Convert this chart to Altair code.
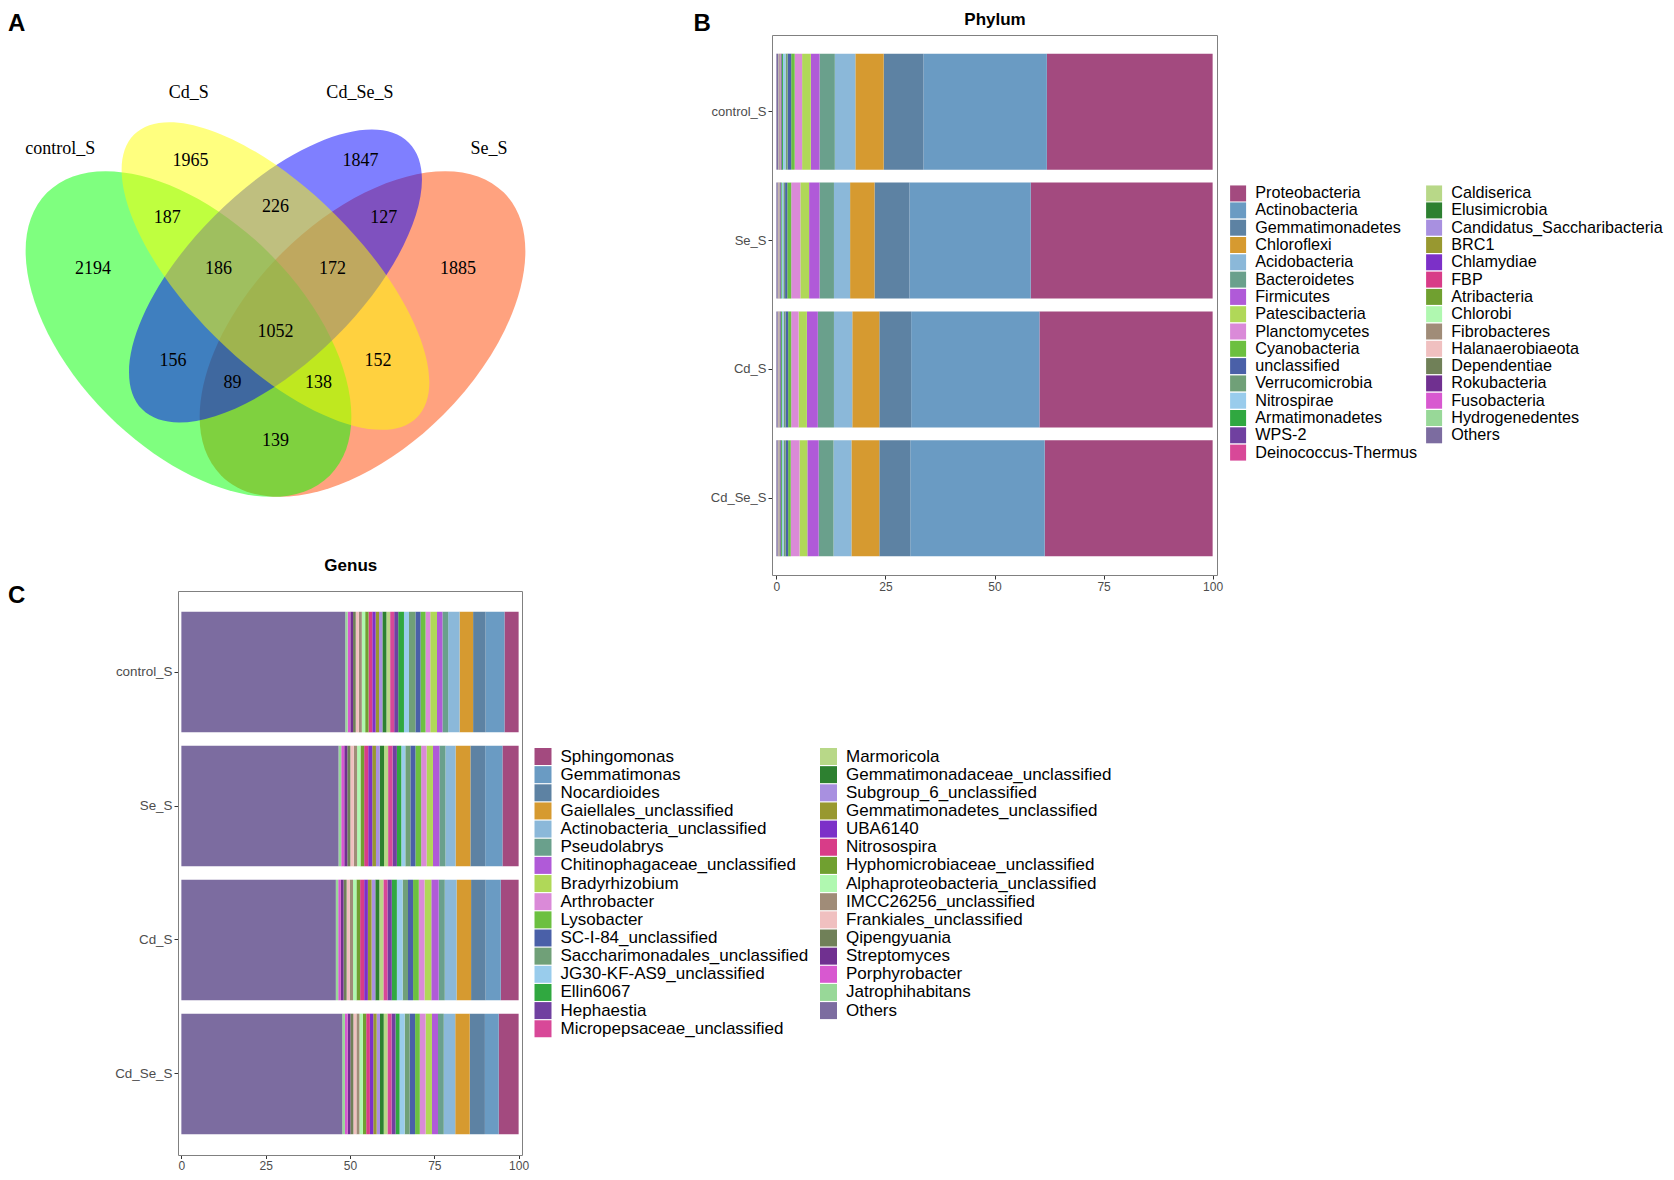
import altair as alt
import pandas as pd

# ------------------------------------------------------------------ data
samples = ["control_S", "Se_S", "Cd_S", "Cd_Se_S"]

phylum_names = ["Proteobacteria", "Actinobacteria", "Gemmatimonadetes", "Chloroflexi",
                "Acidobacteria", "Bacteroidetes", "Firmicutes", "Patescibacteria",
                "Planctomycetes", "Cyanobacteria", "unclassified", "Verrucomicrobia",
                "Nitrospirae", "Armatimonadetes", "WPS-2", "Deinococcus-Thermus",
                "Caldiserica", "Elusimicrobia", "Candidatus_Saccharibacteria", "BRC1",
                "Chlamydiae", "FBP", "Atribacteria", "Chlorobi", "Fibrobacteres",
                "Halanaerobiaeota", "Dependentiae", "Rokubacteria", "Fusobacteria",
                "Hydrogenedentes", "Others"]
phylum_control_S = [38.0, 28.3, 9.1, 6.5, 4.7, 3.5, 2.0, 2.0, 1.7, 0.8, 0.8, 0.5, 0.6, 0.3, 0.2, 0.1,
                    0.06, 0.05, 0.05, 0.05, 0.04, 0.04, 0.04, 0.03, 0.03, 0.03, 0.03, 0.02, 0.02, 0.02, 0.39]
phylum_Se_S = [41.7, 27.8, 8.0, 5.6, 3.7, 3.3, 2.4, 2.0, 2.1, 0.9, 0.5, 0.4, 0.4, 0.2, 0.15, 0.1,
               0.05, 0.04, 0.05, 0.04, 0.03, 0.04, 0.03, 0.03, 0.02, 0.03, 0.03, 0.02, 0.02, 0.02, 0.3]
phylum_Cd_S = [39.7, 29.4, 7.3, 6.2, 4.2, 3.7, 2.5, 1.9, 1.7, 0.7, 0.6, 0.45, 0.4, 0.25, 0.15, 0.1,
               0.05, 0.04, 0.05, 0.04, 0.03, 0.04, 0.03, 0.03, 0.02, 0.03, 0.03, 0.02, 0.02, 0.02, 0.3]
phylum_Cd_Se_S = [38.5, 30.8, 7.1, 6.4, 4.1, 3.4, 2.6, 1.8, 2.0, 0.6, 0.55, 0.5, 0.4, 0.25, 0.15, 0.1,
                  0.04, 0.05, 0.04, 0.04, 0.04, 0.03, 0.03, 0.03, 0.03, 0.02, 0.03, 0.02, 0.02, 0.03, 0.3]

genus_names = ["Sphingomonas", "Gemmatimonas", "Nocardioides", "Gaiellales_unclassified",
               "Actinobacteria_unclassified", "Pseudolabrys", "Chitinophagaceae_unclassified",
               "Bradyrhizobium", "Arthrobacter", "Lysobacter", "SC-I-84_unclassified",
               "Saccharimonadales_unclassified", "JG30-KF-AS9_unclassified", "Ellin6067",
               "Hephaestia", "Micropepsaceae_unclassified", "Marmoricola",
               "Gemmatimonadaceae_unclassified", "Subgroup_6_unclassified",
               "Gemmatimonadetes_unclassified", "UBA6140", "Nitrosospira",
               "Hyphomicrobiaceae_unclassified", "Alphaproteobacteria_unclassified",
               "IMCC26256_unclassified", "Frankiales_unclassified", "Qipengyuania",
               "Streptomyces", "Porphyrobacter", "Jatrophihabitans", "Others"]
genus_control_S = [4.2, 5.6, 3.7, 4.0, 3.4, 1.7, 1.6, 2.0, 1.4, 1.5, 1.5, 1.9, 1.5, 1.7, 1.2, 1.2,
                   1.1, 1.2, 1.0, 1.0, 1.0, 1.1, 1.0, 1.0, 0.9, 0.9, 0.8, 0.8, 0.8, 0.7, 48.6]
genus_Se_S = [4.8, 5.1, 4.4, 4.4, 3.0, 1.8, 1.9, 1.9, 1.6, 1.7, 1.5, 1.5, 1.2, 1.3, 1.3, 1.3,
              1.2, 1.3, 1.1, 1.1, 1.2, 1.2, 1.1, 1.0, 1.0, 1.0, 0.9, 0.9, 0.9, 0.8, 46.6]
genus_Cd_S = [5.3, 4.5, 4.3, 4.3, 3.5, 1.8, 2.2, 2.0, 1.7, 1.7, 1.5, 1.6, 1.7, 1.5, 1.3, 1.2,
              1.2, 1.2, 1.1, 1.1, 1.1, 1.2, 1.1, 1.0, 1.0, 0.9, 0.9, 0.8, 0.8, 0.7, 45.8]
genus_Cd_Se_S = [5.9, 4.1, 4.5, 4.3, 3.4, 1.7, 1.8, 1.9, 1.7, 1.4, 1.6, 1.5, 1.5, 1.2, 1.2, 1.2,
                 1.1, 1.1, 1.0, 1.0, 1.0, 1.1, 1.0, 1.0, 0.9, 0.9, 0.9, 0.8, 0.8, 0.8, 47.7]

palette = ["#A34A7F", "#6A9BC3", "#5D82A3", "#D69A30", "#8BB8D9", "#6AA08C", "#B05AD8",
           "#B0D858", "#DA8AD8", "#6CC040", "#4A60A8", "#70A078", "#99CCEC", "#30A840",
           "#7040A0", "#D84898", "#B8D888", "#2D8030", "#A890E0", "#989830", "#7C30C8",
           "#D83C88", "#70A030", "#B0F8B0", "#A08C78", "#F0C0C0", "#708058", "#703090",
           "#D858D0", "#98D898", "#7C6CA0"]

# Venn (VennDiagram quad layout, unit square)
venn_sets = ["control_S", "Cd_S", "Cd_Se_S", "Se_S"]
venn_colors = ["#00FF00", "#FFFF00", "#0000FF", "#FF4500"]
venn_draw_order = ["Se_S", "control_S", "Cd_Se_S", "Cd_S"]
ell_cx = [0.35, 0.50, 0.50, 0.65]
ell_cy = [0.47, 0.57, 0.57, 0.47]
ell_a = [0.35, 0.35, 0.33, 0.35]
ell_b = [0.20, 0.15, 0.15, 0.20]
ell_rot = [135, 135, 45, 45]
region_counts = ["2194", "1965", "1847", "1885", "187", "226", "127", "186", "172",
                 "1052", "156", "152", "89", "138", "139"]
region_u = [0.1855, 0.3536, 0.6464, 0.8145, 0.3133, 0.500, 0.6867, 0.4017, 0.5983,
            0.500, 0.3231, 0.6769, 0.4258, 0.5742, 0.500]
region_v = [0.5818, 0.7675, 0.7675, 0.5818, 0.6693, 0.6884, 0.6693, 0.5818, 0.5818,
            0.4727, 0.4241, 0.4241, 0.3850, 0.3850, 0.2860]
setlabel_u = [0.1289, 0.3503, 0.6455, 0.8681]
setlabel_v = [0.7882, 0.8850, 0.8850, 0.7882]

FONT = "Liberation Sans"
W, H = 1658, 1164

# ------------------------------------------------------------------ panel A (Venn)
VX_RANGE = [0, 600]
VY_RANGE = [567, 27]
VX = [0.038793, 1.073276]
VY = [0.054483, 0.985517]
ppu = (VX_RANGE[1] - VX_RANGE[0]) / (VX[1] - VX[0])
ELL_SCALE = 0.985
xs = alt.Scale(domain=VX, range=VX_RANGE, nice=False, zero=False)
ys = alt.Scale(domain=VY, range=VY_RANGE, nice=False, zero=False)

ell_df = pd.DataFrame({"set": venn_sets, "cx": ell_cx, "cy": ell_cy})
venn_layers = []
for name in venn_draw_order:
    i = venn_sets.index(name)
    r = ell_b[i] / ell_a[i]
    path = f"M-1,0A1,{r:.5f},0,1,1,1,0A1,{r:.5f},0,1,1,-1,0Z"
    venn_layers.append(
        alt.Chart(ell_df).transform_filter(alt.datum.set == name)
        .mark_point(shape=path, size=(2 * ell_a[i] * ppu * ELL_SCALE) ** 2,
                    angle=180 - ell_rot[i], filled=True, color=venn_colors[i],
                    opacity=0.5, strokeWidth=0)
        .encode(x=alt.X("cx:Q", scale=xs, axis=None), y=alt.Y("cy:Q", scale=ys, axis=None))
    )

cnt_df = pd.DataFrame({"u": region_u, "v": region_v, "n": region_counts})
venn_layers.append(
    alt.Chart(cnt_df).mark_text(font="Liberation Serif", fontSize=18, color="black")
    .encode(x=alt.X("u:Q", scale=xs, axis=None), y=alt.Y("v:Q", scale=ys, axis=None), text="n:N")
)
lab_df = pd.DataFrame({"u": setlabel_u, "v": setlabel_v, "n": venn_sets})
venn_layers.append(
    alt.Chart(lab_df).mark_text(font="Liberation Serif", fontSize=18, color="black")
    .encode(x=alt.X("u:Q", scale=xs, axis=None), y=alt.Y("v:Q", scale=ys, axis=None), text="n:N")
)


def note(txt, x, y, size, align="left"):
    return alt.Chart(pd.DataFrame({"t": [txt]})).mark_text(
        align=align, baseline="alphabetic", fontSize=size, fontWeight="bold",
        color="black", font=FONT
    ).encode(text="t:N", x=alt.value(x), y=alt.value(y))


notes = [
    note("A", 0, 23, 24),
    note("B", 685.6, 23, 24),
    note("Phylum", 987, 16.5, 17, align="center"),
    note("C", 0, 595, 24),
    note("Genus", 342.8, 563, 17, align="center"),
]

# ------------------------------------------------------------------ panels B and C


def bar_layers(field, names, series, xr, yr, pad_outer, lx, ly, fsize, sym, rowpad, colpad,
               ylab, tick, lpad):
    rows = []
    for s, vals in zip(samples, series):
        for k, (t, v) in enumerate(zip(names, vals)):
            rows.append({"sample": s, field: t, "value": v, "rank": len(names) - 1 - k})
    df = pd.DataFrame(rows)
    xsc = alt.Scale(domain=[-1, 101], range=xr, nice=False, zero=False)
    ysc = alt.Scale(domain=samples, range=yr, paddingInner=0.1, paddingOuter=pad_outer)
    bars = alt.Chart(df).mark_bar().encode(
        x=alt.X("value:Q", stack="zero", scale=xsc,
                axis=alt.Axis(orient="bottom", offset=yr[1] - H, values=[0, 25, 50, 75, 100],
                              title=None, grid=False, domain=True, domainColor="#808080",
                              domainWidth=1, tickSize=tick, tickColor="#333333",
                              labelColor="#4d4d4d", labelFontSize=12, labelPadding=lpad,
                              labelFlush=False)),
        y=alt.Y("sample:N", sort=samples, scale=ysc,
                axis=alt.Axis(orient="left", offset=-xr[0], title=None, grid=False, domain=True,
                              domainColor="#808080", domainWidth=1, tickSize=4,
                              tickColor="#333333", labelColor="#4d4d4d", labelFontSize=ylab,
                              labelPadding=2)),
        color=alt.Color(f"{field}:N", scale=alt.Scale(domain=names, range=palette),
                        legend=alt.Legend(title=None, orient="none", legendX=lx, legendY=ly,
                                          columns=2, symbolType="square", symbolSize=sym * sym,
                                          symbolStrokeWidth=0, symbolOpacity=1, symbolLimit=60,
                                          labelFontSize=fsize, labelColor="black", labelFont=FONT,
                                          labelOffset=9, rowPadding=rowpad, columnPadding=colpad,
                                          padding=0, labelLimit=500)),
        order=alt.Order("rank:Q", sort="ascending"),
    )
    frame = alt.Chart(df).mark_bar(opacity=0).encode(
        x=alt.X("value:Q", stack="zero", scale=xsc,
                axis=alt.Axis(orient="top", offset=-yr[0], title=None, grid=False, labels=False,
                              ticks=False, domain=True, domainColor="#808080", domainWidth=1)),
        y=alt.Y("sample:N", sort=samples, scale=ysc,
                axis=alt.Axis(orient="right", offset=xr[1] - W, title=None, grid=False,
                              labels=False, ticks=False, domain=True, domainColor="#808080",
                              domainWidth=1)),
    )
    return [bars, frame]


phylum_layers = bar_layers("phylum", phylum_names,
                           [phylum_control_S, phylum_Se_S, phylum_Cd_S, phylum_Cd_Se_S],
                           [764, 1209], [27, 567], 0.145, 1222, 177, 16.2, 16, 0.3, 8, 13.0,
                           4, 2)
genus_layers = bar_layers("genus", genus_names,
                          [genus_control_S, genus_Se_S, genus_Cd_S, genus_Cd_Se_S],
                          [170, 514], [583, 1147], 0.155, 526.5, 740, 17, 17, 0.15, 11.5, 13.4,
                          3.5, 1.5)

chart = (
    alt.layer(*venn_layers, *phylum_layers, *genus_layers, *notes)
    .resolve_scale(x="independent", y="independent", color="independent")
    .properties(width=W, height=H, padding=0,
                autosize=alt.AutoSizeParams(type="none"))
    .configure(font=FONT)
    .configure_view(stroke="transparent")
)

chart.save("out.html", embed_options={"renderer": "svg", "actions": False})
